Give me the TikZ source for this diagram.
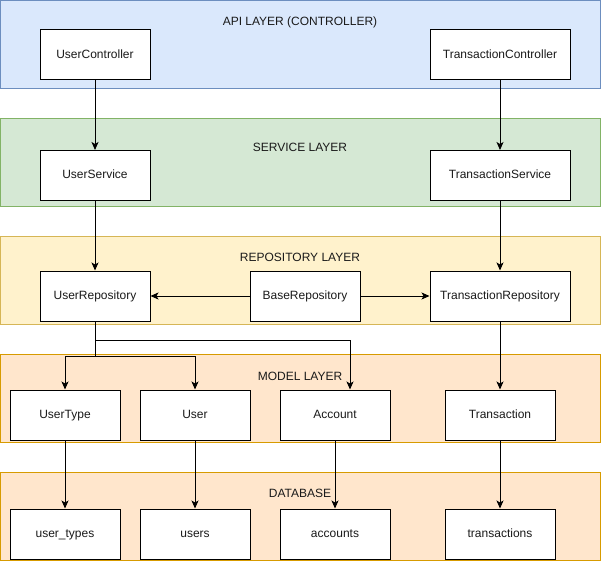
\documentclass[tikz,border=0pt]{standalone}
\usepackage{fontspec}
\setmainfont{Liberation Sans}
\usetikzlibrary{arrows.meta}
\definecolor{bluefill}{HTML}{DAE8FC}
\definecolor{bluestroke}{HTML}{6C8EBF}
\definecolor{greenfill}{HTML}{D5E8D4}
\definecolor{greenstroke}{HTML}{82B366}
\definecolor{yellowfill}{HTML}{FFF2CC}
\definecolor{yellowstroke}{HTML}{D6B656}
\definecolor{orangefill}{HTML}{FFE6CC}
\definecolor{orangestroke}{HTML}{D79B00}
\definecolor{txt}{HTML}{1A1A1A}
\begin{document}
\begin{tikzpicture}[x=1pt,y=-1pt,
  every node/.style={font=\fontsize{12}{14}\selectfont, text=txt},
  layer/.style={line width=1pt},
  box/.style={draw=black, fill=white, line width=1pt, minimum width=110pt, minimum height=50pt, inner sep=0pt, text height=8.6pt, text depth=2.4pt, anchor=center},
  widebox/.style={box, minimum width=140pt},
  title/.style={anchor=center, inner sep=0pt, text height=8.6pt, text depth=2.4pt},
  arr/.style={line width=1pt, -{Stealth[length=8pt,width=7pt,inset=2pt]}}
]
\useasboundingbox (0,0) rectangle (601,561);
% layers
\draw[layer, fill=bluefill, draw=bluestroke] (0.5,0.5) rectangle (600.5,88.5);
\draw[layer, fill=greenfill, draw=greenstroke] (0.5,118.5) rectangle (600.5,206.5);
\draw[layer, fill=yellowfill, draw=yellowstroke] (0.5,236.5) rectangle (600.5,324.5);
\draw[layer, fill=orangefill, draw=orangestroke] (0.5,354.5) rectangle (600.5,442.5);
\draw[layer, fill=orangefill, draw=orangestroke] (0.5,472.5) rectangle (600.5,560.5);
% titles
\node[title] (tapi) at (300,22) {API LAYER (CONTROLLER)};
\node[title] (tsvc) at (300,148) {SERVICE LAYER};
\node[title] (trep) at (300,258) {REPOSITORY LAYER};
\node[title] (tmod) at (300,377) {MODEL LAYER};
\node[title] (tdb) at (300,494) {DATABASE};
% boxes
\node[box] (uc) at (95,55) {UserController};
\node[widebox] (tc) at (500,55) {TransactionController};
\node[box] (us) at (95,175.5) {UserService};
\node[widebox] (ts) at (500,175.5) {TransactionService};
\node[box] (ur) at (95,296) {UserRepository};
\node[box] (br) at (305,296) {BaseRepository};
\node[widebox] (tr) at (500,296) {TransactionRepository};
\node[box] (ut) at (65,415) {UserType};
\node[box] (u) at (195,415) {User};
\node[box] (acc) at (335,415) {Account};
\node[box] (tx) at (500,415) {Transaction};
\node[box] (uts) at (65,534) {user\_types};
\node[box] (us2) at (195,534) {users};
\node[box] (accs) at (335,534) {accounts};
\node[box] (txs) at (500,534) {transactions};
% connectors
\draw[arr] (uc) -- (us);
\draw[arr] (tc) -- (ts);
\draw[arr] (us) -- (ur);
\draw[arr] (ts) -- (tr);
\draw[arr] (br) -- (ur);
\draw[arr] (br) -- (tr);
\draw[arr] (ur.south) -- ++(0,35) -| (ut.north);
\draw[arr] (ur.south) -- ++(0,35) -| (u.north);
\draw[arr] (ur.south) -- ++(0,19) -| ([xshift=15pt]acc.north);
\draw[arr] (tr) -- (tx);
\draw[arr] (ut) -- (uts);
\draw[arr] (u) -- (us2);
\draw[arr] (acc) -- (accs);
\draw[arr] (tx) -- (txs);
\end{tikzpicture}
\end{document}
